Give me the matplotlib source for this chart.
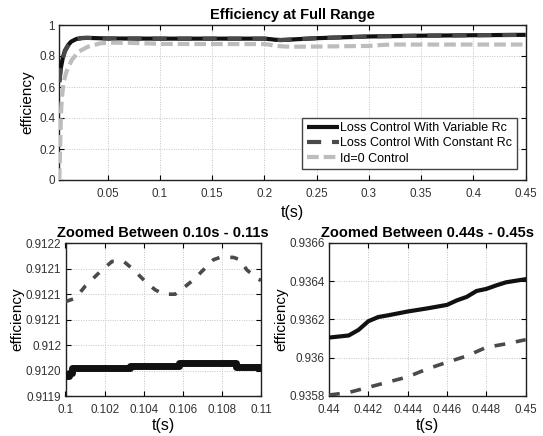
import matplotlib
matplotlib.use("Agg")
import matplotlib.pyplot as plt

plt.rcParams['font.family'] = ['Liberation Sans', 'DejaVu Sans']

# ---------------- data ----------------
# Full range
t_full = [0.0036, 0.005, 0.007, 0.009, 0.012, 0.015, 0.02, 0.025, 0.03, 0.04, 0.05,
          0.1, 0.15, 0.2, 0.205, 0.21, 0.215, 0.22, 0.23, 0.25, 0.3, 0.35, 0.4, 0.44, 0.45]
eff_var = [0.634, 0.72, 0.79, 0.835, 0.87, 0.893, 0.91, 0.916, 0.917, 0.915, 0.913,
           0.912, 0.912, 0.912, 0.909, 0.905, 0.903, 0.904, 0.908, 0.915, 0.926, 0.931, 0.934, 0.9361, 0.9364]
eff_const = [0.63, 0.715, 0.785, 0.83, 0.866, 0.89, 0.908, 0.915, 0.917, 0.915, 0.913,
             0.9121, 0.912, 0.912, 0.909, 0.905, 0.903, 0.904, 0.908, 0.915, 0.926, 0.931, 0.934, 0.9358, 0.9361]
t_id0 = [0.0036, 0.0042, 0.0048, 0.0055, 0.0065, 0.008, 0.0105, 0.0155, 0.022, 0.031, 0.043,
         0.052, 0.07, 0.09, 0.1, 0.15, 0.2, 0.205, 0.21, 0.22, 0.23, 0.25, 0.3, 0.31, 0.32, 0.35, 0.4, 0.45]
eff_id0 = [0.0, 0.15, 0.33, 0.47, 0.56, 0.64, 0.70, 0.774, 0.828, 0.86, 0.882,
           0.886, 0.885, 0.881, 0.878, 0.877, 0.877, 0.873, 0.866, 0.861, 0.860, 0.861, 0.865, 0.870, 0.874, 0.874, 0.874, 0.874]

# Zoom 0.10 - 0.11 s
t_z1_var = [0.1, 0.1002, 0.10034, 0.10328, 0.10582, 0.10872, 0.11]
eff_z1_var = [0.911940, 0.911945, 0.911955, 0.911958, 0.911964, 0.911956, 0.911956]
t_z1_const = [0.1, 0.10051, 0.10102, 0.101786, 0.102381, 0.102976, 0.103486, 0.104167, 0.104592,
              0.105017, 0.105612, 0.106122, 0.106548, 0.107058, 0.107568, 0.107908, 0.108588,
              0.108929, 0.109269, 0.109779, 0.11]
eff_z1_const = [0.9120851, 0.9120917, 0.9121160, 0.9121442, 0.9121639, 0.9121639, 0.9121475, 0.9121212,
                0.9121081, 0.9120996, 0.9120996, 0.9121147, 0.9121278, 0.9121475, 0.9121672, 0.9121718,
                0.9121718, 0.9121672, 0.9121475, 0.9121311, 0.9121265]
z1_yticks = [0.91190, 0.91195, 0.91200, 0.91205, 0.91210, 0.91215, 0.91220]
z1_yticklabels = ['0.9119', '0.9120', '0.912', '0.9121', '0.9121', '0.9121', '0.9122']
z1_xticks = [0.1, 0.102, 0.104, 0.106, 0.108, 0.11]
z1_xticklabels = ['0.1', '0.102', '0.104', '0.106', '0.108', '0.11']

# Zoom 0.44 - 0.45 s
t_z2_var = [0.440, 0.441, 0.4415, 0.442, 0.4425, 0.443, 0.444, 0.445, 0.446, 0.4465, 0.447,
            0.4475, 0.448, 0.4485, 0.449, 0.450]
eff_z2_var = [0.9361055, 0.9361164, 0.9361455, 0.9361909, 0.9362127, 0.9362218, 0.9362418, 0.9362582,
              0.9362764, 0.9363000, 0.9363182, 0.9363491, 0.9363600, 0.9363782, 0.9363945, 0.9364109]
t_z2_const = [0.440, 0.441, 0.442, 0.443, 0.444, 0.445, 0.446, 0.447, 0.448, 0.449, 0.450]
eff_z2_const = [0.935805, 0.9358182, 0.9358455, 0.9358727, 0.9359, 0.9359418, 0.9359764,
                0.9360091, 0.9360545, 0.9360727, 0.9360945]
z2_yticks = [0.9358, 0.9360, 0.9362, 0.9364, 0.9366]
z2_yticklabels = ['0.9358', '0.936', '0.9362', '0.9364', '0.9366']
z2_xticks = [0.44, 0.442, 0.444, 0.446, 0.448, 0.45]
z2_xticklabels = ['0.44', '0.442', '0.444', '0.446', '0.448', '0.45']

full_xticks = [0.05, 0.1, 0.15, 0.2, 0.25, 0.3, 0.35, 0.4, 0.45]
full_xticklabels = ['0.05', '0.1', '0.15', '0.2', '0.25', '0.3', '0.35', '0.4', '0.45']
full_yticks = [0, 0.2, 0.4, 0.6, 0.8, 1]
full_yticklabels = ['0', '0.2', '0.4', '0.6', '0.8', '1']

labels = ['Loss Control With Variable Rc', 'Loss Control With Constant Rc', 'Id=0 Control']

# ---------------- style ----------------
W, H = 543, 436
fig = plt.figure(figsize=(W / 100, H / 100), dpi=100)

BLACK = '#111111'
DGRAY = '#4a4a4a'
LGRAY = '#bdbdbd'
TICKC = '#333333'


def axes_px(x0, y0, x1, y1):
    return fig.add_axes([x0 / W, 1 - y1 / H, (x1 - x0) / W, (y1 - y0) / H])


def style(ax):
    ax.grid(True, linestyle=(0, (1, 1.5)), color='#c4c4c4', linewidth=0.7)
    ax.tick_params(direction='in', top=True, right=True, length=3.5, width=0.8,
                   labelsize=8.4, labelcolor=TICKC)
    ax.tick_params(axis='x', pad=5.5)
    ax.tick_params(axis='y', pad=3)
    for s in ax.spines.values():
        s.set_color('#202020')
        s.set_linewidth(1.0)
    ax.set_axisbelow(True)


# top axes
ax = axes_px(59.3, 25, 525.7, 180)
ax.plot(t_full, eff_var, color=BLACK, lw=3, solid_capstyle='butt', label=labels[0], zorder=3)
ax.plot(t_full, eff_const, color=DGRAY, lw=3, linestyle=(0, (3.4, 2.6)), label=labels[1], zorder=4)
ax.plot(t_id0, eff_id0, color=LGRAY, lw=3, linestyle=(0, (2.8, 1.2)), label=labels[2], zorder=5)
ax.set_xlim(0.0036, 0.45)
ax.set_ylim(0, 1)
ax.set_xticks(full_xticks, full_xticklabels)
ax.set_yticks(full_yticks, full_yticklabels)
style(ax)
ax.set_title('Efficiency at Full Range', fontsize=10.5, fontweight='bold', pad=4)
ax.set_xlabel('t(s)', fontsize=11.5, labelpad=4)
ax.set_ylabel('efficiency', fontsize=11, labelpad=3)
leg = ax.legend(loc='lower right', bbox_to_anchor=(0.981, 0.071), borderaxespad=0,
                fontsize=9, handlelength=2.6, handletextpad=0.1, labelspacing=0.25,
                fancybox=False, framealpha=1, edgecolor='#444444', borderpad=0.35)
leg.get_frame().set_linewidth(1.0)

# bottom left
ax1 = axes_px(65.5, 243, 261, 396)
ax1.plot(t_z1_const, eff_z1_const, color=DGRAY, lw=2.6, linestyle=(0, (2.2, 3.0)), zorder=3)
ax1.plot(t_z1_var, eff_z1_var, color=BLACK, lw=5, drawstyle='steps-post', zorder=4)
ax1.set_xlim(0.1, 0.11)
ax1.set_ylim(0.91190, 0.91220)
ax1.set_xticks(z1_xticks, z1_xticklabels)
ax1.set_yticks(z1_yticks, z1_yticklabels)
style(ax1)
ax1.set_title('Zoomed Between 0.10s - 0.11s', fontsize=10.5, fontweight='bold', pad=4)
ax1.set_xlabel('t(s)', fontsize=11.5, labelpad=2)
ax1.set_ylabel('efficiency', fontsize=11, labelpad=1)

# bottom right
ax2 = axes_px(329, 243, 525.7, 396)
ax2.plot(t_z2_const, eff_z2_const, color=DGRAY, lw=2.6, linestyle=(0, (3, 3)), zorder=3)
ax2.plot(t_z2_var, eff_z2_var, color=BLACK, lw=3, zorder=4)
ax2.set_xlim(0.44, 0.45)
ax2.set_ylim(0.9358, 0.9366)
ax2.set_xticks(z2_xticks, z2_xticklabels)
ax2.set_yticks(z2_yticks, z2_yticklabels)
style(ax2)
ax2.set_title('Zoomed Between 0.44s - 0.45s', fontsize=10.5, fontweight='bold', pad=4)
ax2.set_xlabel('t(s)', fontsize=11.5, labelpad=2)
ax2.set_ylabel('efficiency', fontsize=11, labelpad=1)

fig.savefig('out.png', dpi=100)
